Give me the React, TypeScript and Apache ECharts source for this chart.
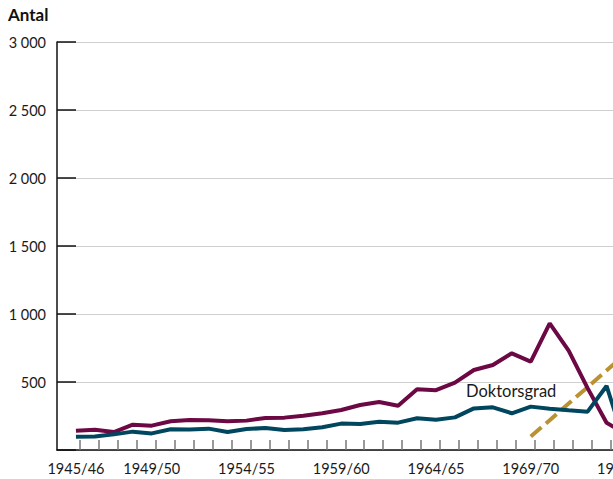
import React, { useEffect, useRef } from "react";
import * as echarts from "echarts";

const years = [
  "1945/46", "1946/47", "1947/48", "1948/49", "1949/50", "1950/51", "1951/52", "1952/53",
  "1953/54", "1954/55", "1955/56", "1956/57", "1957/58", "1958/59", "1959/60", "1960/61",
  "1961/62", "1962/63", "1963/64", "1964/65", "1965/66", "1966/67", "1967/68", "1968/69",
  "1969/70", "1970/71", "1971/72", "1972/73", "1973/74", "1974/75", "1975/76", "1976/77",
  "1977/78", "1978/79", "1979/80",
];

const licentiat = [
  142, 149, 132, 186, 179, 211, 220, 218, 211, 216, 235, 238, 252, 270, 294, 331, 353, 326,
  446, 440, 495, 588, 625, 711, 650, 931, 730, 455, 200, 120,
];

const doktorsgrad = [
  98, 100, 115, 135, 122, 152, 150, 157, 132, 154, 162, 147, 152, 167, 194, 191, 208, 201,
  233, 222, 240, 306, 314, 270, 319, 304, 292, 282, 471, 40,
];

const doktorsexamen = [
  null, null, null, null, null, null, null, null, null, null, null, null, null, null, null,
  null, null, null, null, null, null, null, null, null, 100, 219, 342, 462, 585, 705,
];

const yTicks = [0, 500, 1000, 1500, 2000, 2500, 3000];

const FONT = "Lato, 'DejaVu Sans', sans-serif";

export default function App() {
  const ref = useRef<HTMLDivElement>(null);
  useEffect(() => {
    if (!ref.current) return;
    const chart = echarts.init(ref.current, undefined, { renderer: "svg" });
    const cats = [""].concat(years);
    const pad = (arr: (number | null)[]) => [null as number | null].concat(arr);
    const step = 18.95;
    const gridWidth = step * (cats.length - 1);
    chart.setOption({
      animation: false,
      backgroundColor: "#ffffff",
      textStyle: { fontFamily: FONT },
      grid: [
        { left: 57, top: 42, width: gridWidth, height: 408 },
        { left: 61, top: 42, width: gridWidth, height: 408 },
      ],
      xAxis: [
        {
          type: "category",
          gridIndex: 0,
          data: cats,
          boundaryGap: false,
          axisLine: { show: true, lineStyle: { color: "#111", width: 1.5 } },
          axisTick: { show: false },
          axisLabel: {
            interval: (i: number) => i === 1 || (i >= 1 && i % 5 === 0),
            color: "#1a1a1a",
            fontSize: 14.5,
            fontFamily: FONT,
            margin: 11,
          },
          splitLine: { show: false },
        },
        {
          type: "category",
          gridIndex: 1,
          data: cats,
          boundaryGap: false,
          axisLine: { show: false },
          axisTick: {
            show: true,
            inside: true,
            length: 10,
            interval: (i: number) => i >= 1,
            lineStyle: { color: "#777", width: 1.5 },
          },
          axisLabel: { show: false },
          splitLine: { show: false },
        },
      ],
      yAxis: [
        {
          type: "value",
          gridIndex: 0,
          min: yTicks[0],
          max: yTicks[yTicks.length - 1],
          interval: 500,
          axisLine: { show: true, lineStyle: { color: "#111", width: 1.5 } },
          axisTick: { show: true, inside: true, length: 19, lineStyle: { color: "#111", width: 1.5 } },
          axisLabel: {
            color: "#1a1a1a",
            fontSize: 14.5,
            fontFamily: FONT,
            margin: 11,
            formatter: (v: number) =>
              v === 0 ? "" : String(v).replace(/\B(?=(\d{3})+(?!\d))/g, " "),
          },
          splitLine: { show: true, lineStyle: { color: "#cfcfcf", width: 1 } },
        },
        { type: "value", gridIndex: 1, min: 0, max: 1, show: false },
      ],
      series: [
        {
          name: "Licentiatexamen",
          type: "line",
          data: pad(licentiat),
          symbol: "none",
          lineStyle: { color: "#6c0844", width: 4 },
          itemStyle: { color: "#6c0844" },
          z: 3,
        },
        {
          name: "Doktorsgrad",
          type: "line",
          data: pad(doktorsgrad),
          symbol: "none",
          lineStyle: { color: "#00465e", width: 4 },
          itemStyle: { color: "#00465e" },
          z: 4,
        },
        {
          name: "Doktorsexamen",
          type: "line",
          data: pad(doktorsexamen),
          symbol: "none",
          lineStyle: { color: "#bb9232", width: 4, type: [14, 6] },
          itemStyle: { color: "#bb9232" },
          z: 2,
        },
      ],
      graphic: [
        {
          type: "text",
          left: 8,
          top: 6,
          style: { text: "Antal", font: `bold 17px ${FONT}`, fill: "#111" },
        },
        {
          type: "text",
          left: 466,
          top: 382,
          style: { text: "Doktorsgrad", font: `16.5px ${FONT}`, fill: "#1a1a1a" },
        },
      ],
    });
    return () => chart.dispose();
  }, []);
  return (
    <div
      style={{
        position: "fixed",
        left: 0,
        top: 0,
        width: 613,
        height: 479,
        overflow: "hidden",
        background: "#fff",
      }}
    >
      <div ref={ref} style={{ width: 760, height: 479 }} />
    </div>
  );
}
